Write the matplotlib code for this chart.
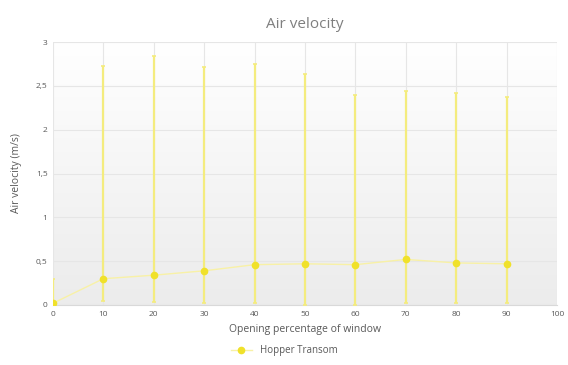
import numpy as np
import matplotlib
matplotlib.use("Agg")
import matplotlib.pyplot as plt
from matplotlib.ticker import FuncFormatter

# data
opening = [0, 10, 20, 30, 40, 50, 60, 70, 80, 90]
velocity = [0.02, 0.30, 0.34, 0.39, 0.46, 0.47, 0.46, 0.52, 0.48, 0.47]
upper = [0.30, 2.73, 2.84, 2.71, 2.75, 2.63, 2.40, 2.44, 2.42, 2.37]
lower = [0.0, 0.04, 0.03, 0.02, 0.02, 0.0, 0.0, 0.02, 0.02, 0.02]

err_lo = np.array(velocity) - np.array(lower)
err_hi = np.array(upper) - np.array(velocity)

plt.rcParams['font.family'] = ['Open Sans', 'DejaVu Sans']
txt = '#595959'

fig = plt.figure(figsize=(5.68, 3.65), dpi=100)
ax = fig.add_axes([0.0933, 0.1644, 0.8873, 0.7205])

# soft gradient background: white at top, light grey at the bottom
shade = np.linspace(0.925, 1.0, 256)
grad = np.repeat(shade[:, None, None], 3, axis=2)
ax.imshow(grad, extent=[0, 100, 0, 3], aspect='auto', zorder=0,
          origin='lower', interpolation='bilinear')

ax.errorbar(opening, velocity, yerr=[err_lo, err_hi], fmt='none',
            ecolor='#f4ec7e', elinewidth=1.6, capsize=1.5, capthick=1.2, zorder=3)
ax.plot(opening, velocity, color='#f8f1a6', lw=1.0, zorder=4,
        marker='o', markersize=4.5, markerfacecolor='#f0e12a',
        markeredgecolor='#f0e12a', label='Hopper Transom')

ax.set_xlim(0, 100)
ax.set_ylim(0, 3)
ax.set_xticks(range(0, 101, 10))
ax.set_yticks(np.arange(0, 3.01, 0.5))
ax.yaxis.set_major_formatter(FuncFormatter(lambda v, p: ('%g' % v).replace('.', ',')))
ax.grid(True, color='#e6e6e6', lw=0.8, zorder=1)
ax.set_axisbelow(True)
for s in ax.spines.values():
    s.set_visible(False)
ax.spines['bottom'].set_visible(True)
ax.spines['bottom'].set_color('#d9d9d9')
ax.tick_params(length=0, labelsize=6, colors=txt, pad=4)

ax.set_title('Air velocity', fontsize=11, color='#7f7f7f', pad=10)
ax.set_xlabel('Opening percentage of window', fontsize=7.5, color=txt, labelpad=5)
ax.set_ylabel('Air velocity (m/s)', fontsize=7.5, color=txt, labelpad=10)

fig.legend(loc='lower center', bbox_to_anchor=(0.5, 0.0), frameon=False,
           fontsize=7, labelcolor=txt, handlelength=2.2)

fig.savefig('out.png', dpi=100)
